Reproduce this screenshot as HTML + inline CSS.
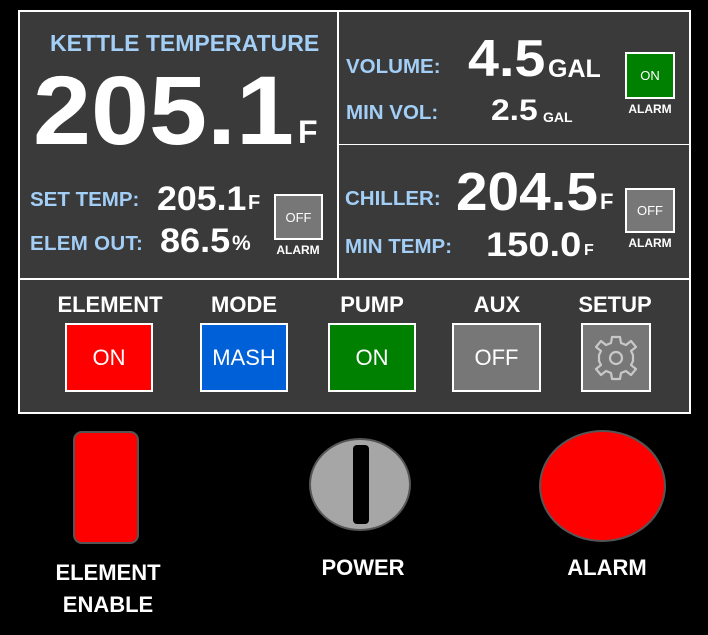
<!DOCTYPE html>
<html><head><meta charset="utf-8"><style>
body{margin:0;width:708px;height:635px;background:#000;position:relative;overflow:hidden;font-family:"Liberation Sans",Arial,sans-serif}
.a{position:absolute;line-height:1;white-space:nowrap}
.lbl{color:#a3cff7;font-weight:bold;font-size:20.5px}
.w{color:#fff;font-weight:bold}
.sx{transform-origin:0 0}
.box{position:absolute;box-sizing:border-box;border:2px solid #fff;display:flex;align-items:center;justify-content:center;color:#fff}
.ctr{transform:translateX(-50%)}
</style></head><body>
<div class="a" style="left:18px;top:10px;width:669px;height:400px;background:#3a3a3a;border:2px solid #fff"></div>
<div class="a" style="left:337px;top:10px;width:2px;height:270px;background:#fff"></div>
<div class="a" style="left:18px;top:278px;width:672px;height:2px;background:#fff"></div>
<div class="a" style="left:338px;top:144px;width:352px;height:1px;background:#fff"></div>

<div class="a lbl" style="left:50px;top:32px;font-size:23px">KETTLE TEMPERATURE</div>
<div class="a w sx" style="left:33px;top:62px;font-size:97px;transform:scaleX(1.075)">205.1</div>
<div class="a w" style="left:298px;top:116px;font-size:32px">F</div>
<div class="a lbl" style="left:30px;top:190px">SET TEMP:</div>
<div class="a w sx" style="left:157px;top:182px;font-size:34px;transform:scaleX(1.05)">205.1</div>
<div class="a w" style="left:248px;top:193px;font-size:20px">F</div>
<div class="a lbl" style="left:30px;top:234px;letter-spacing:0.3px">ELEM OUT:</div>
<div class="a w sx" style="left:160px;top:224px;font-size:34px;transform:scaleX(1.06)">86.5</div>
<div class="a w" style="left:232px;top:233px;font-size:21px">%</div>
<div class="box" style="left:274px;top:194px;width:49px;height:46px;background:#777;font-size:13px">OFF</div>
<div class="a w ctr" style="left:298px;top:244px;font-size:12px">ALARM</div>

<div class="a lbl" style="left:346px;top:57px">VOLUME:</div>
<div class="a w sx" style="left:468px;top:33px;font-size:52px;transform:scaleX(1.07)">4.5</div>
<div class="a w" style="left:548px;top:57px;font-size:25px">GAL</div>
<div class="a lbl" style="left:346px;top:103px">MIN VOL:</div>
<div class="a w sx" style="left:491px;top:96px;font-size:30px;transform:scaleX(1.12)">2.5</div>
<div class="a w" style="left:543px;top:110px;font-size:14px">GAL</div>
<div class="box" style="left:625px;top:52px;width:50px;height:47px;background:#008000;font-size:13px">ON</div>
<div class="a w ctr" style="left:650px;top:103px;font-size:12px">ALARM</div>

<div class="a lbl" style="left:345px;top:189px">CHILLER:</div>
<div class="a w sx" style="left:456px;top:165px;font-size:54px;transform:scaleX(1.05)">204.5</div>
<div class="a w" style="left:600px;top:191px;font-size:22px">F</div>
<div class="a lbl" style="left:345px;top:237px">MIN TEMP:</div>
<div class="a w sx" style="left:486px;top:228px;font-size:34px;transform:scaleX(1.12)">150.0</div>
<div class="a w" style="left:584px;top:243px;font-size:16px">F</div>
<div class="box" style="left:625px;top:188px;width:50px;height:45px;background:#777;font-size:13px">OFF</div>
<div class="a w ctr" style="left:650px;top:237px;font-size:12px">ALARM</div>

<div class="a w ctr" style="left:110px;top:294px;font-size:22px">ELEMENT</div>
<div class="a w ctr" style="left:244px;top:294px;font-size:22px">MODE</div>
<div class="a w ctr" style="left:372px;top:294px;font-size:22px">PUMP</div>
<div class="a w ctr" style="left:497px;top:294px;font-size:22px">AUX</div>
<div class="a w ctr" style="left:615px;top:294px;font-size:22px">SETUP</div>
<div class="box" style="left:65px;top:323px;width:88px;height:69px;background:#f00;font-size:22px">ON</div>
<div class="box" style="left:200px;top:323px;width:88px;height:69px;background:#0060d8;font-size:22px">MASH</div>
<div class="box" style="left:328px;top:323px;width:88px;height:69px;background:#008000;font-size:22px">ON</div>
<div class="box" style="left:452px;top:323px;width:89px;height:69px;background:#777;font-size:22px">OFF</div>
<div class="box" style="left:581px;top:323px;width:70px;height:69px;background:#777">
<svg width="50" height="50" viewBox="-25 -25 50 50"><path d="M-4,-21 L4,-21 L5,-15 L10,-13 L15,-17 L20,-11 L15,-7 L17,-3 L17,3 L15,7 L20,11 L15,17 L10,13 L5,15 L4,21 L-4,21 L-5,15 L-10,13 L-15,17 L-20,11 L-15,7 L-17,3 L-17,-3 L-15,-7 L-20,-11 L-15,-17 L-10,-13 L-5,-15 Z" fill="none" stroke="#c8c8c8" stroke-width="2.2" stroke-linejoin="round"/><circle r="6" fill="none" stroke="#c8c8c8" stroke-width="2.2"/></svg></div>

<div class="a" style="left:73px;top:431px;width:66px;height:113px;box-sizing:border-box;background:#f00;border:2px solid #555;border-radius:9px"></div>
<div class="a" style="left:309px;top:438px;width:102px;height:93px;box-sizing:border-box;background:#a6a6a6;border:2px solid #555;border-radius:50%"></div>
<div class="a" style="left:353px;top:445px;width:16px;height:79px;background:#000;border-radius:4px"></div>
<div class="a" style="left:539px;top:430px;width:127px;height:112px;box-sizing:border-box;background:#f00;border:2px solid #555;border-radius:50%"></div>
<div class="a w ctr" style="left:108px;top:557px;font-size:22px;text-align:center;line-height:32px">ELEMENT<br>ENABLE</div>
<div class="a w ctr" style="left:363px;top:557px;font-size:22px">POWER</div>
<div class="a w ctr" style="left:607px;top:557px;font-size:22px">ALARM</div>
</body></html>
